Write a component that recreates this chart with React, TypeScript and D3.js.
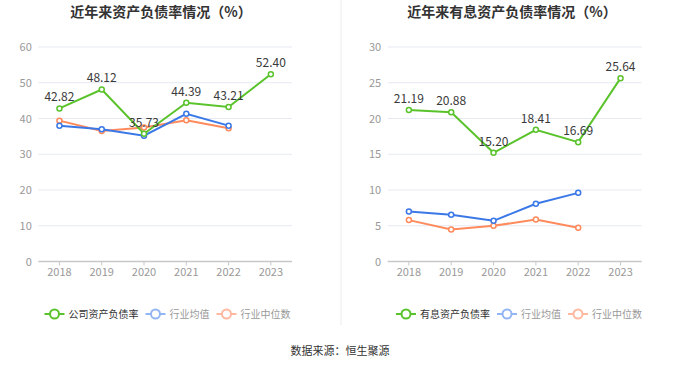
import React, { useEffect, useRef } from "react";
import * as d3 from "d3";

const years = ["2018", "2019", "2020", "2021", "2022", "2023"];

// left chart: 资产负债率
const debtRatio = [42.82, 48.12, 35.73, 44.39, 43.21, 52.4];
const debtIndustryAvg = [38.0, 37.0, 35.2, 41.3, 38.0];
const debtIndustryMedian = [39.4, 36.5, 37.5, 39.5, 37.3];
const debtTicks = [0, 10, 20, 30, 40, 50, 60];

// right chart: 有息资产负债率
const interestRatio = [21.19, 20.88, 15.2, 18.41, 16.69, 25.64];
const interestIndustryAvg = [7.0, 6.53, 5.69, 8.07, 9.6];
const interestIndustryMedian = [5.79, 4.48, 4.99, 5.87, 4.71];
const interestTicks = [0, 5, 10, 15, 20, 25, 30];

const GREEN = "#5ac32b";
const BLUE = "#3b78e7";
const ORANGE = "#ff8a5c";
const FONT = "'Noto Sans CJK SC', 'Noto Sans', sans-serif";

const drawChart = (svg, opts) => {
  const { left, right, title, titleX, ticks, series, legend } = opts;
  const top = 47;
  const bottom = 261.5;

  const x = d3.scaleBand().domain(years).range([left, right]);
  const y = d3
    .scaleLinear()
    .domain([0, ticks[ticks.length - 1]])
    .range([bottom, top]);

  const g = svg.append("g");

  g.append("text")
    .attr("x", titleX)
    .attr("y", 17)
    .attr("text-anchor", "middle")
    .attr("font-size", 14)
    .attr("font-weight", "bold")
    .attr("fill", "#333")
    .text(title);

  // grid lines
  g.selectAll(".grid")
    .data(ticks.slice(1))
    .enter()
    .append("line")
    .attr("x1", left)
    .attr("x2", right)
    .attr("y1", (d) => y(d))
    .attr("y2", (d) => y(d))
    .attr("stroke", "#e6e9f2")
    .attr("stroke-width", 1);

  // y labels
  g.selectAll(".ylab")
    .data(ticks)
    .enter()
    .append("text")
    .attr("x", left - 6.5)
    .attr("y", (d) => y(d) + 4)
    .attr("text-anchor", "end")
    .attr("font-size", 11)
    .attr("fill", "#999")
    .text((d) => d);

  // x axis
  g.append("line")
    .attr("x1", left)
    .attr("x2", right)
    .attr("y1", bottom)
    .attr("y2", bottom)
    .attr("stroke", "#c8c8c8")
    .attr("stroke-width", 1.5);

  g.selectAll(".xtick")
    .data(years)
    .enter()
    .append("line")
    .attr("x1", (d) => x(d) + x.bandwidth() / 2)
    .attr("x2", (d) => x(d) + x.bandwidth() / 2)
    .attr("y1", bottom)
    .attr("y2", bottom + 4)
    .attr("stroke", "#c8c8c8");

  g.selectAll(".xlab")
    .data(years)
    .enter()
    .append("text")
    .attr("x", (d) => x(d) + x.bandwidth() / 2)
    .attr("y", 276)
    .attr("text-anchor", "middle")
    .attr("font-size", 11)
    .attr("fill", "#999")
    .text((d) => d);

  const line = d3
    .line()
    .x((d, i) => x(years[i]) + x.bandwidth() / 2)
    .y((d) => y(d));

  // draw from back to front: median, avg, company
  [...series].reverse().forEach((s) => {
    g.append("path")
      .attr("d", line(s.values))
      .attr("fill", "none")
      .attr("stroke", s.color)
      .attr("stroke-width", 2);

    g.selectAll(null)
      .data(s.values)
      .enter()
      .append("circle")
      .attr("cx", (d, i) => x(years[i]) + x.bandwidth() / 2)
      .attr("cy", (d) => y(d))
      .attr("r", 2.5)
      .attr("fill", "#fff")
      .attr("stroke", s.color)
      .attr("stroke-width", 1.5);

    if (s.labels) {
      g.selectAll(null)
        .data(s.values)
        .enter()
        .append("text")
        .attr("x", (d, i) => x(years[i]) + x.bandwidth() / 2)
        .attr("y", (d) => y(d) - 7)
        .attr("text-anchor", "middle")
        .attr("font-size", 12)
        .attr("fill", "#3a3a3a")
        .text((d) => d.toFixed(2));
    }
  });

  // legend
  let lx = legend.start;
  const ly = 314;
  series.forEach((s, i) => {
    const item = g.append("g");
    item
      .append("line")
      .attr("x1", lx)
      .attr("x2", lx + 20)
      .attr("y1", ly)
      .attr("y2", ly)
      .attr("stroke", s.legendColor)
      .attr("stroke-width", 2);
    item
      .append("circle")
      .attr("cx", lx + 10)
      .attr("cy", ly)
      .attr("r", 4.5)
      .attr("fill", "#fff")
      .attr("stroke", s.legendColor)
      .attr("stroke-width", 2);
    item
      .append("text")
      .attr("x", lx + 24)
      .attr("y", ly + 3.5)
      .attr("font-size", 10)
      .attr("fill", i === 0 ? "#333" : "#999")
      .text(s.name);
    lx += 24 + s.name.length * 10 + 7;
  });
};

const App = () => {
  const ref = useRef(null);

  useEffect(() => {
    const svg = d3.select(ref.current);
    svg.selectAll("*").remove();
    svg.attr("font-family", FONT);

    svg
      .append("line")
      .attr("x1", 341)
      .attr("x2", 341)
      .attr("y1", 0)
      .attr("y2", 325)
      .attr("stroke", "#f2f2f2")
      .attr("stroke-width", 1.5);

    drawChart(svg, {
      left: 38.3,
      right: 292,
      title: "近年来资产负债率情况（%）",
      titleX: 161,
      ticks: debtTicks,
      legend: { start: 44.5 },
      series: [
        { name: "公司资产负债率", values: debtRatio, color: GREEN, legendColor: GREEN, labels: true },
        { name: "行业均值", values: debtIndustryAvg, color: BLUE, legendColor: "#94b5f3" },
        { name: "行业中位数", values: debtIndustryMedian, color: ORANGE, legendColor: "#ffb9a0" },
      ],
    });

    drawChart(svg, {
      left: 387.7,
      right: 641.7,
      title: "近年来有息资产负债率情况（%）",
      titleX: 512,
      ticks: interestTicks,
      legend: { start: 396 },
      series: [
        { name: "有息资产负债率", values: interestRatio, color: GREEN, legendColor: GREEN, labels: true },
        { name: "行业均值", values: interestIndustryAvg, color: BLUE, legendColor: "#94b5f3" },
        { name: "行业中位数", values: interestIndustryMedian, color: ORANGE, legendColor: "#ffb9a0" },
      ],
    });

    svg
      .append("text")
      .attr("x", 340)
      .attr("y", 355)
      .attr("text-anchor", "middle")
      .attr("font-size", 11)
      .attr("fill", "#333")
      .text("数据来源：恒生聚源");
  }, []);

  return (
    <svg
      ref={ref}
      width={680}
      height={367}
      style={{ position: "absolute", left: 0, top: 0, background: "#fff" }}
    />
  );
};

export default App;
